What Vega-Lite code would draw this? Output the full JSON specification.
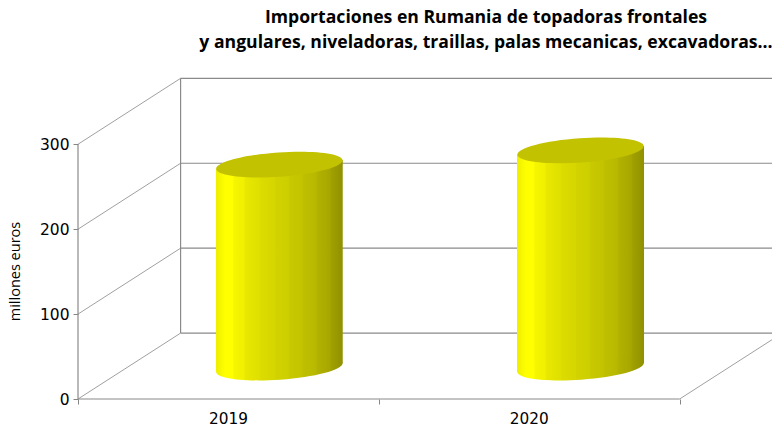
{
"$schema":"https://vega.github.io/schema/vega-lite/v6.json",
"width":694,"height":321,
"autosize":{"type":"none"},
"padding":{"left":78,"top":78,"right":0,"bottom":26},
"background":"white",
"title":{"text":["Importaciones en Rumania de topadoras frontales","y angulares, niveladoras, traillas, palas mecanicas, excavadoras..."],"anchor":"middle","frame":"group","dx":61,"offset":26,"font":"Open Sans","fontSize":17.6,"fontWeight":"bold","color":"#000000","lineHeight":25},
"config":{"view":{"stroke":null}},
"datasets":{
"depth":[
{"x":0,"y":0,"x2":0.341,"y2":77.6},
{"x":0,"y":100,"x2":0.341,"y2":177.6},
{"x":0,"y":200,"x2":0.341,"y2":277.6},
{"x":0,"y":300,"x2":0.341,"y2":377.6},
{"x":2,"y":0,"x2":2.307,"y2":69.8}],
"walls":[
{"x":0.341,"y":77.6,"x2":2.307,"y2":77.6},
{"x":0.341,"y":177.6,"x2":2.307,"y2":177.6},
{"x":0.341,"y":277.6,"x2":2.307,"y2":277.6},
{"x":0.341,"y":377.6,"x2":2.307,"y2":377.6},
{"x":0.341,"y":77.6,"x2":0.341,"y2":377.6},
{"x":0,"y":0,"x2":0,"y2":300},
{"x":0,"y":0,"x2":2,"y2":0}],
"body":[
{"year":"2019","x":0.4588,"top":270.9,"bottom":32.2},
{"year":"2019","x":0.88,"top":281.5,"bottom":42},
{"year":"2020","x":1.4594,"top":287.4,"bottom":32.2},
{"year":"2020","x":1.8816,"top":298,"bottom":42}],
"caps":[
{"year":"2019","x":0.6694,"top":276,"bottom":37.1},
{"year":"2020","x":1.6705,"top":292.7,"bottom":37.1}],
"labels":[{"year":"2019","x":0.5,"y":0},{"year":"2020","x":1.5,"y":0}]
},
"layer":[
{"data":{"name":"depth"},"mark":{"type":"rule","color":"#a0a0a0","strokeWidth":1},
"encoding":{
"x":{"field":"x","type":"quantitative","scale":{"domain":[0,2.307],"nice":false,"zero":false},"axis":{"values":[0,1,2],"labels":false,"title":null,"domain":false,"grid":false,"tickSize":5,"tickColor":"#868686"}},
"y":{"field":"y","type":"quantitative","scale":{"domain":[0,378],"nice":false},"axis":{"values":[0,100,200,300],"title":"millones euros","titleFont":"Open Sans","titleFontSize":14.5,"titleFontWeight":"normal","titleColor":"#000000","titleX":-56,"titleY":193,"titleLetterSpacing":-0.5,"domain":false,"grid":false,"tickSize":5,"tickColor":"#868686","labelFont":"DejaVu Sans","labelFontSize":15.5,"labelColor":"#000000","labelPadding":4}},
"x2":{"field":"x2"},"y2":{"field":"y2"}}},
{"data":{"name":"walls"},"mark":{"type":"rule","color":"#8a8a8a","strokeWidth":1.2},
"encoding":{"x":{"field":"x","type":"quantitative"},"y":{"field":"y","type":"quantitative"},"x2":{"field":"x2"},"y2":{"field":"y2"}}},
{"data":{"name":"body"},"mark":{"type":"area","interpolate":"linear","fill":{"gradient":"linear","x1":0,"y1":0,"x2":1,"y2":0,"stops":[{"offset":0,"color":"#eeee00"},{"offset":0.07,"color":"#ffff00"},{"offset":0.13,"color":"#ffff00"},{"offset":0.14,"color":"#f6f600"},{"offset":0.22,"color":"#f0f000"},{"offset":0.23,"color":"#e8e800"},{"offset":0.34,"color":"#e0e000"},{"offset":0.35,"color":"#dcdc00"},{"offset":0.46,"color":"#d6d600"},{"offset":0.47,"color":"#d2d200"},{"offset":0.57,"color":"#cecf00"},{"offset":0.58,"color":"#c9c900"},{"offset":0.68,"color":"#c3c300"},{"offset":0.69,"color":"#bfbf00"},{"offset":0.79,"color":"#b8b800"},{"offset":0.8,"color":"#b2b200"},{"offset":0.9,"color":"#a6a600"},{"offset":0.91,"color":"#a0a000"},{"offset":1,"color":"#909000"}]}},
"encoding":{"x":{"field":"x","type":"quantitative"},"y":{"field":"top","type":"quantitative"},"y2":{"field":"bottom"},"detail":{"field":"year"}}},
{"data":{"name":"caps"},"mark":{"type":"point","filled":true,"opacity":1,"size":16053,"shape":"M-0.9976,0.0698 A1,0.192,-4,1,0,0.9976,-0.0698 A1,0.192,-4,1,0,-0.9976,0.0698 Z","fill":{"gradient":"linear","x1":0,"y1":0,"x2":1,"y2":0,"stops":[{"offset":0,"color":"#eeee00"},{"offset":0.07,"color":"#ffff00"},{"offset":0.13,"color":"#ffff00"},{"offset":0.14,"color":"#f6f600"},{"offset":0.22,"color":"#f0f000"},{"offset":0.23,"color":"#e8e800"},{"offset":0.34,"color":"#e0e000"},{"offset":0.35,"color":"#dcdc00"},{"offset":0.46,"color":"#d6d600"},{"offset":0.47,"color":"#d2d200"},{"offset":0.57,"color":"#cecf00"},{"offset":0.58,"color":"#c9c900"},{"offset":0.68,"color":"#c3c300"},{"offset":0.69,"color":"#bfbf00"},{"offset":0.79,"color":"#b8b800"},{"offset":0.8,"color":"#b2b200"},{"offset":0.9,"color":"#a6a600"},{"offset":0.91,"color":"#a0a000"},{"offset":1,"color":"#909000"}]}},
"encoding":{"x":{"field":"x","type":"quantitative"},"y":{"field":"bottom","type":"quantitative"}}},
{"data":{"name":"caps"},"mark":{"type":"point","filled":true,"opacity":1,"size":16053,"shape":"M-0.9976,0.0698 A1,0.192,-4,1,0,0.9976,-0.0698 A1,0.192,-4,1,0,-0.9976,0.0698 Z","fill":"#c2c200"},
"encoding":{"x":{"field":"x","type":"quantitative"},"y":{"field":"top","type":"quantitative"}}},
{"data":{"name":"labels"},"mark":{"type":"text","font":"DejaVu Sans","fontSize":15.3,"color":"#000000","dy":20,"clip":false},
"encoding":{"x":{"field":"x","type":"quantitative"},"y":{"field":"y","type":"quantitative"},"text":{"field":"year"}}}
]
}
